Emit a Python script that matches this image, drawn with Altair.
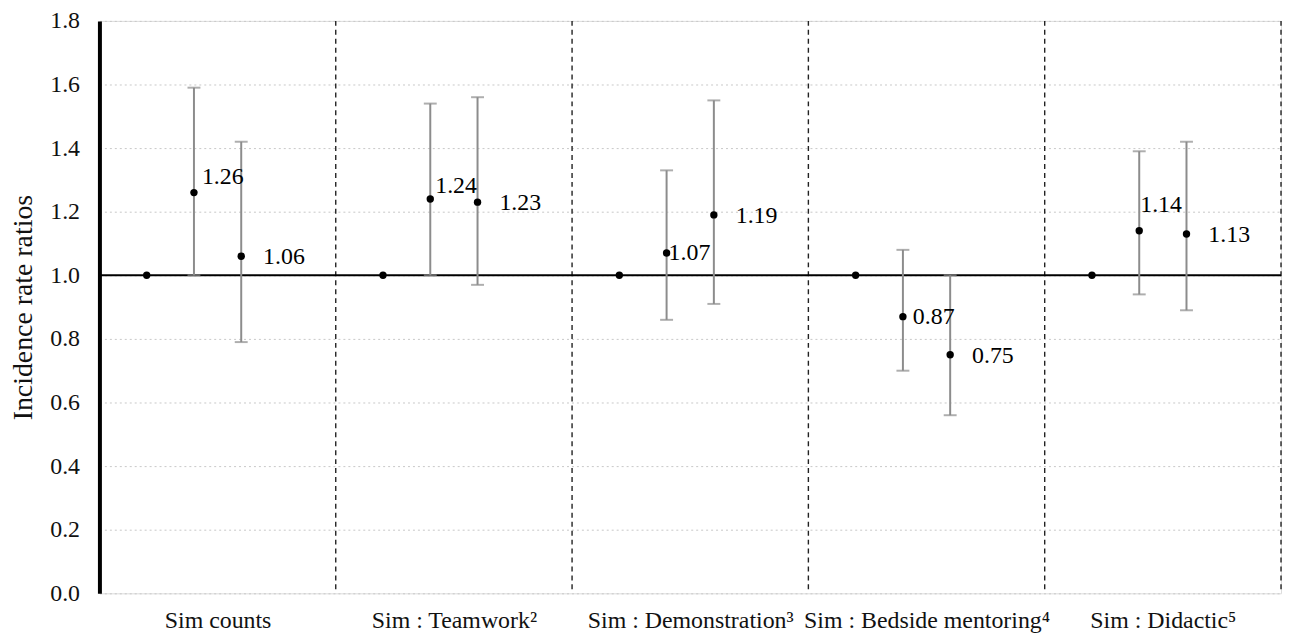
import json
import altair as alt
import pandas as pd

# ---- data ----
groups = ["Sim counts", "Sim : Teamwork²", "Sim : Demonstration³",
          "Sim : Bedside mentoring⁴", "Sim : Didactic⁵"]
reference = [1.00, 1.00, 1.00, 1.00, 1.00]
est1 = [1.26, 1.24, 1.07, 0.87, 1.14]
lo1 = [1.00, 1.00, 0.86, 0.70, 0.94]
hi1 = [1.59, 1.54, 1.33, 1.08, 1.39]
est2 = [1.06, 1.23, 1.19, 0.75, 1.13]
lo2 = [0.79, 0.97, 0.91, 0.56, 0.89]
hi2 = [1.42, 1.56, 1.55, 1.00, 1.42]
y_ticks = [0.0, 0.2, 0.4, 0.6, 0.8, 1.0, 1.2, 1.4, 1.6, 1.8]

# label placement (pixel offsets, style only)
lab1_dx = [8, 5, 2, 10, 1]
lab1_dy = [-16, -13, 0, 0, -26]
lab2_dx = 22
lab2_dy = 1

SLOTS = 5  # slots per group on the x axis
FONT = "Liberation Serif"
W, H = 1189, 576

rows = []
for g, name in enumerate(groups):
    b = g * SLOTS
    rows.append(dict(group=name, gi=g, pos=b + 1, est=reference[g], lo=None, hi=None, kind="ref"))
    rows.append(dict(group=name, gi=g, pos=b + 2, est=est1[g], lo=lo1[g], hi=hi1[g], kind="m1"))
    rows.append(dict(group=name, gi=g, pos=b + 3, est=est2[g], lo=lo2[g], hi=hi2[g], kind="m2"))
df = pd.DataFrame(rows)
df_err = df[df.kind != "ref"].copy()

sep_df = pd.DataFrame({"pos": [(g + 1) * SLOTS for g in range(len(groups))]})
ref_df = pd.DataFrame({"y": [1.0]})

n_total = SLOTS * len(groups)
xscale = alt.Scale(domain=[0, n_total], nice=False, zero=False)
yscale = alt.Scale(domain=[0, 1.8], nice=False)

label_expr = json.dumps(groups, ensure_ascii=False) + "[floor(datum.value / %d)]" % SLOTS

x_axis = alt.Axis(
    values=[g * SLOTS + SLOTS / 2 for g in range(len(groups))],
    labelExpr=label_expr, title=None, grid=False, domain=False, ticks=False,
    labelFont=FONT, labelFontSize=24, labelColor="#111111", labelPadding=15,
    labelOverlap=False, labelBound=False, labelFlush=False, labelLimit=0,
)
y_axis = alt.Axis(
    values=y_ticks, format=".1f", title="Incidence rate ratios",
    grid=True, gridColor="#c8c8c8", gridDash=[2, 3], gridWidth=1,
    domain=True, domainColor="black", domainWidth=4, ticks=False,
    labelFont=FONT, labelFontSize=24, labelColor="#111111", labelPadding=20,
    titleFont=FONT, titleFontSize=28, titleFontWeight="normal", titleColor="#111111",
    titleAngle=270, titleAlign="center", titleBaseline="middle",
    titleX=-76, titleY=H / 2,
)

base = alt.Chart(df)

axes_layer = base.mark_point(opacity=0).encode(
    x=alt.X("pos:Q", scale=xscale, axis=x_axis),
    y=alt.Y("est:Q", scale=yscale, axis=y_axis),
)

seps = alt.Chart(sep_df).mark_rule(color="#222222", strokeWidth=1.4, strokeDash=[5, 4]).encode(
    x=alt.X("pos:Q", scale=xscale)
)

ref_line = alt.Chart(ref_df).mark_rule(color="black", strokeWidth=2).encode(
    y=alt.Y("y:Q", scale=yscale)
)

bars = alt.Chart(df_err).mark_rule(color="#8c8c8c", strokeWidth=2).encode(
    x=alt.X("pos:Q", scale=xscale),
    y=alt.Y("lo:Q", scale=yscale),
    y2="hi:Q",
)
cap_lo = alt.Chart(df_err).mark_tick(color="#8c8c8c", thickness=2, size=13, orient="horizontal").encode(
    x=alt.X("pos:Q", scale=xscale),
    y=alt.Y("lo:Q", scale=yscale),
)
cap_hi = alt.Chart(df_err).mark_tick(color="#8c8c8c", thickness=2, size=13, orient="horizontal").encode(
    x=alt.X("pos:Q", scale=xscale),
    y=alt.Y("hi:Q", scale=yscale),
)

points = base.mark_circle(color="black", size=55, opacity=1).encode(
    x=alt.X("pos:Q", scale=xscale),
    y=alt.Y("est:Q", scale=yscale),
)

text_layers = []
for g in range(len(groups)):
    text_layers.append(
        alt.Chart(df).transform_filter(
            (alt.datum.kind == "m1") & (alt.datum.gi == g)
        ).mark_text(
            align="left", baseline="middle", dx=lab1_dx[g], dy=lab1_dy[g],
            font=FONT, fontSize=24, color="black",
        ).encode(
            x=alt.X("pos:Q", scale=xscale),
            y=alt.Y("est:Q", scale=yscale),
            text=alt.Text("est:Q", format=".2f"),
        )
    )
text_layers.append(
    alt.Chart(df).transform_filter(alt.datum.kind == "m2").mark_text(
        align="left", baseline="middle", dx=lab2_dx, dy=lab2_dy,
        font=FONT, fontSize=24, color="black",
    ).encode(
        x=alt.X("pos:Q", scale=xscale),
        y=alt.Y("est:Q", scale=yscale),
        text=alt.Text("est:Q", format=".2f"),
    )
)

chart = alt.layer(
    axes_layer, seps, ref_line, bars, cap_lo, cap_hi, points, *text_layers
).properties(
    width=W, height=H,
    autosize=alt.AutoSizeParams(type="none"),
    padding={"left": 92, "top": 11, "right": 3, "bottom": 43},
).configure_view(stroke=None).configure(background="white")

chart.save("out.html", embed_options={"renderer": "svg", "actions": False})
